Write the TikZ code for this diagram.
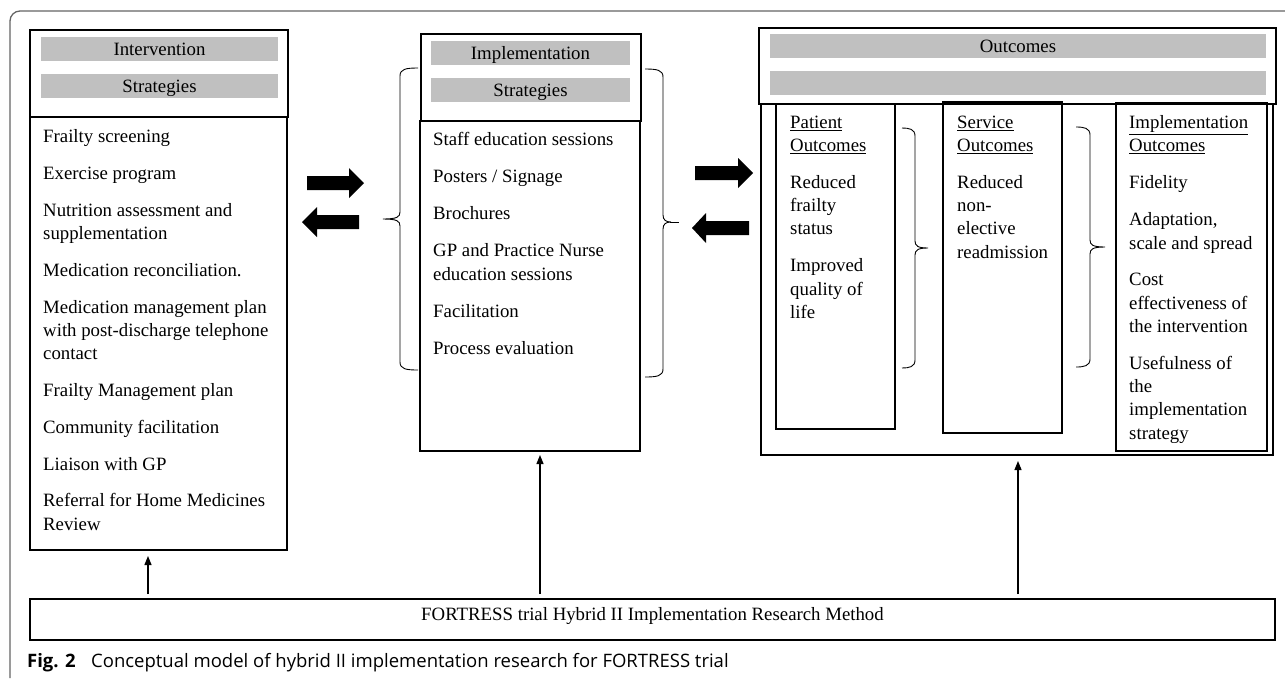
\documentclass[tikz,border=0pt]{standalone}
\usepackage{fontspec}
\setmainfont{Liberation Serif}
\newfontfamily\capfont{Open Sans}
\usetikzlibrary{arrows.meta}
\definecolor{barg}{RGB}{192,192,192}
\definecolor{frameg}{RGB}{100,100,100}
\newcommand\ft{\fontsize{18.8}{23.3}\selectfont}
\newcommand\capsz{\capfont\fontsize{18.5}{21}\selectfont}
% brace with tip to the right: #1 end x, #2 spine x, #3 tip x, #4 top y, #5 mid y, #6 bottom y
\newcommand\braceRt[6]{\draw[brc] (#1,#4) .. controls (#2-6,#4) and (#2,#4+1) .. (#2,#4+8) -- (#2,#5-7) .. controls (#2,#5-2) and (#2+3,#5) .. (#3,#5) (#3,#5) .. controls (#2+3,#5) and (#2,#5+2) .. (#2,#5+7) -- (#2,#6-8) .. controls (#2,#6-1) and (#2-6,#6) .. (#1,#6);}
\begin{document}
\begin{tikzpicture}[x=1pt,y=-1pt,
  box/.style={draw, line width=1.2pt, inner sep=0pt, outer sep=0pt},
  bar/.style={fill=barg, inner sep=0pt, text height=18pt, text depth=6pt, font=\ft},
  txt/.style={anchor=base west, inner sep=0pt, align=left, font=\ft},
  brc/.style={line width=0.9pt},
  arr/.style={line width=1.2pt, -{Triangle[width=7pt,length=9pt]}},
  fat/.style={fill=black},
  frame/.style={draw=frameg, line width=1.3pt}
]
\useasboundingbox (0,0) rectangle (1285,678);
% outer frame
\draw[frame, rounded corners=10pt] (10,678) -- (10,11) -- (1285,11);

% (multi-line text nodes are anchored at the baseline of their last line)
% ---------- Intervention strategies ----------
\node[box, minimum width=258pt, minimum height=87pt] (ihead) at (159,73.5) {};
\node[bar, minimum width=237pt] (ib1) at (159.5,49) {Intervention};
\node[bar, minimum width=237pt] (ib2) at (159.5,86) {Strategies};
\node[box, minimum width=257pt, minimum height=433pt] (ibody) at (158.5,333.5) {};
\node[txt] (i1) at (43,142) {Frailty screening};
\node[txt] (i2) at (43,179) {Exercise program};
\node[txt] (i3) at (43,239.3) {Nutrition assessment and\\supplementation};
\node[txt] (i4) at (43,276.5) {Medication reconciliation.};
\node[txt] (i5) at (43,359.6) {Medication management plan\\with post-discharge telephone\\contact};
\node[txt] (i6) at (43,396.7) {Frailty Management plan};
\node[txt] (i7) at (43,433.5) {Community facilitation};
\node[txt] (i8) at (43,470) {Liaison with GP};
\node[txt] (i9) at (43,530) {Referral for Home Medicines\\Review};

% ---------- Implementation strategies ----------
\node[box, minimum width=220pt, minimum height=87pt] (mhead) at (531,77.5) {};
\node[bar, minimum width=199pt] (mb1) at (530.5,53) {Implementation};
\node[bar, minimum width=199pt] (mb2) at (530.5,90) {Strategies};
\node[box, minimum width=220pt, minimum height=330pt] (mbody) at (530,286) {};
\node[txt] (m1) at (433,145.7) {Staff education sessions};
\node[txt] (m2) at (433,182.7) {Posters / Signage};
\node[txt] (m3) at (433,219.7) {Brochures};
\node[txt] (m4) at (433,280) {GP and Practice Nurse\\education sessions};
\node[txt] (m5) at (433,317) {Facilitation};
\node[txt] (m6) at (433,354) {Process evaluation};

% braces around implementation strategies
\draw[brc] (418,68) .. controls (406,68) and (400,69) .. (400,76) -- (400,212)
  .. controls (400,217) and (397,219) .. (383,219)
  (383,219) .. controls (397,219) and (400,221) .. (400,226) -- (400,362)
  .. controls (400,369) and (406,370) .. (418,370);
\braceRt{645}{663}{671}{69}{222}{377}
\draw[brc] (670,222) -- (679,222);

% ---------- Outcomes ----------
\node[box, minimum width=512pt, minimum height=351pt] (ocont) at (1017,279.5) {};
\node[box, fill=white, minimum width=517pt, minimum height=76pt] (ohead) at (1017.5,66) {};
\node[bar, minimum width=496pt] (ob1) at (1018,46) {Outcomes};
\node[bar, minimum width=496pt] (ob2) at (1018,83) {};
\node[box, minimum width=119pt, minimum height=325pt] (pbox) at (835.5,266.5) {};
\node[box, minimum width=119pt, minimum height=331pt] (sbox) at (1002.5,267.5) {};
\node[box, minimum width=151pt, minimum height=348pt] (xbox) at (1191.5,277) {};

\node[txt] (p1) at (790,151.6) {\underline{Patient}\\\underline{Outcomes}};
\node[txt] (p2) at (790,234.9) {Reduced\\frailty\\status};
\node[txt] (p3) at (790,318.3) {Improved\\quality of\\life};

\node[txt] (s1) at (957,151.6) {\underline{Service}\\\underline{Outcomes}};
\node[txt] (s2) at (957,258.2) {Reduced\\non-\\elective\\readmission};

\node[txt] (x1) at (1129,151.6) {\underline{Implementation}\\\underline{Outcomes}};
\node[txt] (x2) at (1129,188.3) {Fidelity};
\node[txt] (x3) at (1129,249) {Adaptation,\\scale and spread};
\node[txt] (x4) at (1129,332.3) {Cost\\effectiveness of\\the intervention};
\node[txt] (x5) at (1129,439.2) {Usefulness of\\the\\implementation\\strategy};

\braceRt{902}{915}{928}{128}{248}{368}
\braceRt{1076}{1090}{1105}{127}{247}{367}

% ---------- thick arrows ----------
\fill[fat] (307,176) -- (349,176) -- (349,168) -- (364,183) -- (349,198) -- (349,190) -- (307,190) -- cycle;
\fill[fat] (359,215) -- (317,215) -- (317,207) -- (302,222) -- (317,237) -- (317,229) -- (359,229) -- cycle;
\fill[fat] (695,166) -- (738,166) -- (738,158) -- (753,173) -- (738,188) -- (738,180) -- (695,180) -- cycle;
\fill[fat] (749,221) -- (706,221) -- (706,213) -- (692,228) -- (706,243) -- (706,235) -- (749,235) -- cycle;

% ---------- method box ----------
\node[box, minimum width=1245pt, minimum height=41pt, text height=21pt, text depth=20pt, font=\ft] (meth) at (652.5,619.5) {FORTRESS trial Hybrid II Implementation Research Method};

\coordinate (a1s) at (148,594);  \coordinate (a1t) at (148,556);
\coordinate (a2s) at (540,594);  \coordinate (a2t) at (540,455);
\coordinate (a3s) at (1018,594); \coordinate (a3t) at (1018,461);
\draw[arr] (a1s) -- (a1t);
\draw[arr] (a2s) -- (a2t);
\draw[arr] (a3s) -- (a3t);

% ---------- caption ----------
\node[anchor=base west, inner sep=0pt, font=\capsz] (capa) at (27,667) {\textbf{Fig. 2}};
\node[anchor=base west, inner sep=0pt, font=\capsz] (capb) at (91,667) {Conceptual model of hybrid II implementation research for FORTRESS trial};
\end{tikzpicture}
\end{document}
